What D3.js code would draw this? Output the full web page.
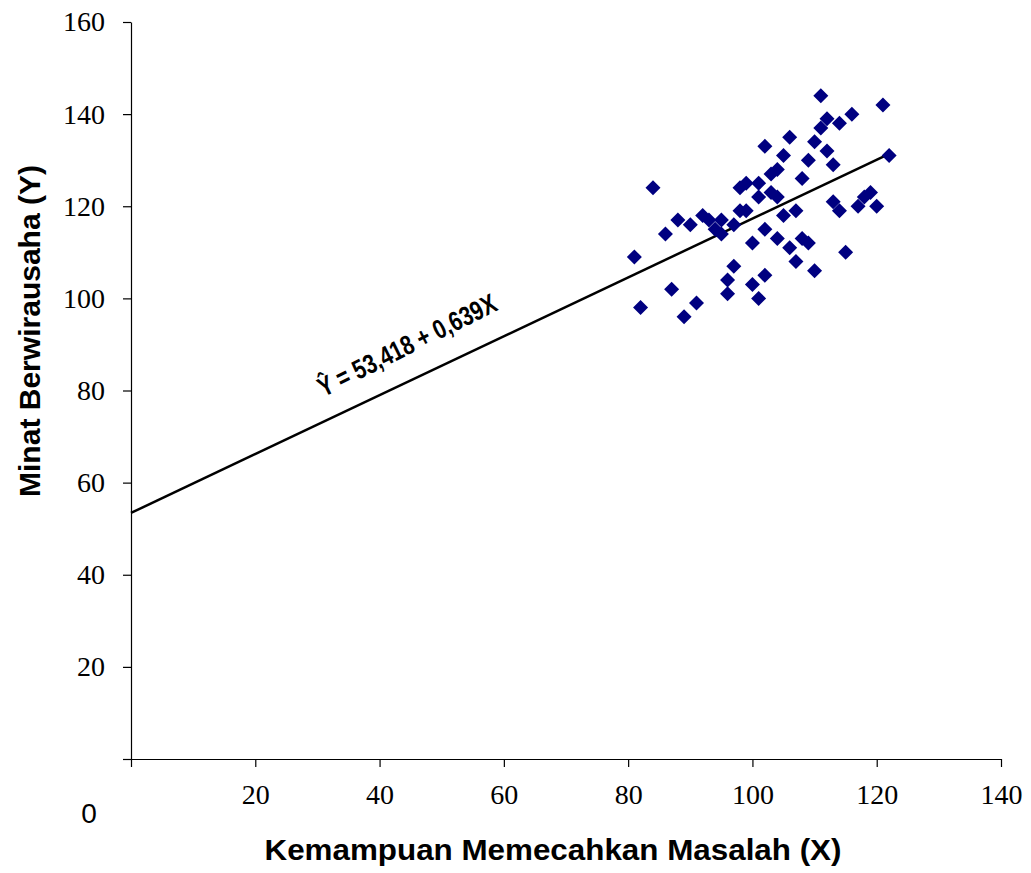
<!DOCTYPE html>
<html>
<head>
<meta charset="utf-8">
<script src="https://cdn.jsdelivr.net/npm/d3@7"></script>
<style>
  body { margin: 0; background: #fff; }
  .tick text { font-family: "Liberation Serif", "Times New Roman", serif; font-size: 28px; fill: #000; }
  .axis path, .axis line { stroke: #000; stroke-width: 1.2; }
</style>
</head>
<body>
<div id="chart"></div>
<script>
// X = Kemampuan Memecahkan Masalah, Y = Minat Berwirausaha
const xValues = [111, 121, 116, 112, 114, 111, 106, 102, 110, 105, 112, 109, 113, 122, 104, 103,
  108, 99, 101, 98, 84, 101, 103, 104, 113, 119, 118, 92, 93, 95, 94, 95, 97, 98, 99, 100,
  88, 90, 86, 81, 105, 107, 102, 104, 106, 108, 109, 107, 110, 102, 100, 101, 115, 114,
  117, 120, 97, 96, 96, 87, 91, 82, 89];
const yValues = [144, 142, 140, 139, 138, 137, 135, 133, 134, 131, 132, 130, 129, 131, 128, 127,
  126, 125, 125, 124, 124, 122, 123, 122, 121, 123, 122, 118, 117, 117, 115, 114, 116, 119, 119, 112,
  117, 116, 114, 109, 118, 119, 115, 113, 111, 113, 112, 108, 106, 105, 103, 100, 110, 119,
  120, 120, 107, 104, 101, 102, 99, 98, 96];
const xTicks = [0, 20, 40, 60, 80, 100, 120, 140];
const yTicks = [0, 20, 40, 60, 80, 100, 120, 140, 160];
const intercept = 53.418;
const slope = 0.639;
const equation = "Ŷ = 53,418 + 0,639X";

const width = 1031, height = 873;
const margin = { top: 22, right: 30, bottom: 114, left: 131 };

const svg = d3.select("#chart").append("svg")
  .attr("width", width)
  .attr("height", height);

const x = d3.scaleLinear().domain([0, 140]).range([margin.left, width - margin.right]);
const y = d3.scaleLinear().domain([0, 160]).range([height - margin.bottom, margin.top]);

svg.append("g")
  .attr("class", "axis")
  .attr("transform", "translate(0," + y(0) + ")")
  .call(d3.axisBottom(x).tickValues(xTicks).tickSize(8).tickSizeOuter(0)
    .tickFormat(d => d === 0 ? "" : d))
  .call(g => g.selectAll(".tick text").attr("y", 45).attr("dy", 0));

svg.append("g")
  .attr("class", "axis")
  .attr("transform", "translate(" + x(0) + ",0)")
  .call(d3.axisLeft(y).tickValues(yTicks).tickSize(8).tickSizeOuter(0)
    .tickFormat(d => d === 0 ? "" : d))
  .call(g => g.selectAll(".tick text").attr("x", -26).attr("dy", "0.32em"));

// the lone zero below the corner
svg.append("text")
  .attr("x", 89).attr("y", 823)
  .attr("text-anchor", "middle")
  .style("font-family", "Liberation Sans, Arial, sans-serif")
  .style("font-size", "28px")
  .text("0");

// regression line
const xMax = d3.max(xValues);
svg.append("line")
  .attr("x1", x(0)).attr("y1", y(intercept))
  .attr("x2", x(xMax)).attr("y2", y(intercept + slope * xMax))
  .attr("stroke", "#000")
  .attr("stroke-width", 2.5);

// points
const pts = xValues.map((v, i) => [v, yValues[i]]);
svg.append("g").selectAll("path")
  .data(pts).enter()
  .append("path")
  .attr("transform", d => "translate(" + x(d[0]) + "," + y(d[1]) + ")")
  .attr("d", "M0,-7.5L7.5,0L0,7.5L-7.5,0Z")
  .attr("fill", "#000080");

// equation label (condensed bold)
svg.append("text")
  .attr("transform", "translate(407,345) rotate(-26.5)")
  .attr("text-anchor", "middle")
  .attr("dy", "0.35em")
  .attr("textLength", 196)
  .attr("lengthAdjust", "spacingAndGlyphs")
  .style("font-family", "'Liberation Sans Narrow', 'Arial Narrow', 'Liberation Sans', sans-serif")
  .style("font-weight", "bold")
  .style("font-size", "27px")
  .text(equation);

// axis titles
svg.append("text")
  .attr("x", 553).attr("y", 860)
  .attr("text-anchor", "middle")
  .attr("textLength", 577)
  .attr("lengthAdjust", "spacingAndGlyphs")
  .style("font-family", "Liberation Sans, Arial, sans-serif")
  .style("font-weight", "bold")
  .style("font-size", "30px")
  .text("Kemampuan Memecahkan Masalah (X)");

svg.append("text")
  .attr("transform", "translate(40,331) rotate(-90)")
  .attr("text-anchor", "middle")
  .attr("textLength", 332)
  .attr("lengthAdjust", "spacingAndGlyphs")
  .style("font-family", "Liberation Sans, Arial, sans-serif")
  .style("font-weight", "bold")
  .style("font-size", "30px")
  .text("Minat Berwirausaha (Y)");
</script>
</body>
</html>
